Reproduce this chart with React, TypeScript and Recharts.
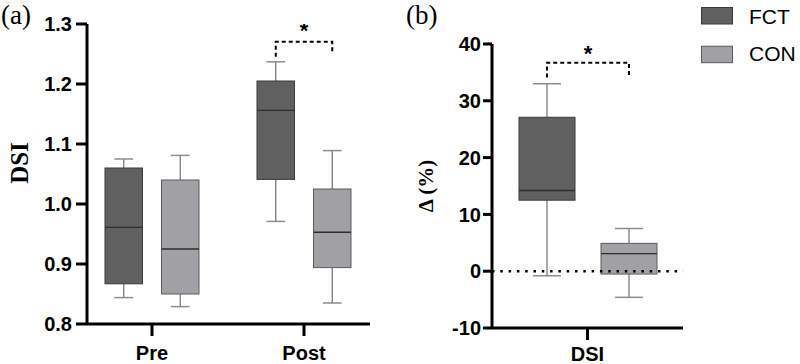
import React from 'react';
import { ComposedChart, Bar, XAxis, YAxis, ReferenceLine } from 'recharts';

// ---------- Panel (a): DSI by phase ----------
const phases = ['Pre', 'Post'];
const phasePositions = [1, 2];
const fctMin = [0.844, 0.971];
const fctQ1 = [0.867, 1.041];
const fctMedian = [0.961, 1.156];
const fctQ3 = [1.06, 1.205];
const fctMax = [1.075, 1.237];
const conMin = [0.829, 0.835];
const conQ1 = [0.85, 0.894];
const conMedian = [0.925, 0.953];
const conQ3 = [1.04, 1.025];
const conMax = [1.081, 1.089];
const dsiTicks = [0.8, 0.9, 1.0, 1.1, 1.2, 1.3];
// significance bracket (FCT vs CON) per phase: null = none
const sigTopA = [null, 1.2705];
const sigLeftEndA = [null, 1.2455];
const sigRightEndA = [null, 1.252];
const sigStarA = [null, 1.297];

// ---------- Panel (b): change in DSI ----------
const deltaCategories = ['DSI'];
const deltaFctMin = [-0.8];
const deltaFctQ1 = [12.5];
const deltaFctMedian = [14.2];
const deltaFctQ3 = [27.1];
const deltaFctMax = [33.0];
const deltaConMin = [-4.6];
const deltaConQ1 = [-0.5];
const deltaConMedian = [3.1];
const deltaConQ3 = [4.9];
const deltaConMax = [7.5];
const deltaTicks = [-10, 0, 10, 20, 30, 40];
const sigTopB = [36.7];
const sigLeftEndB = [34.1];
const sigRightEndB = [34.2];
const sigStarB = [39.2];

const groups = ['FCT', 'CON'];
const groupFill = ['#606060', '#a1a1a5'];
const groupStroke = ['#3a3a3a', '#5c5c5c'];

const BAR_GAP_A = 19;
const BAR_GAP_B = 26;

const stats = (mn: number, q1: number, md: number, q3: number, mx: number) => ({
  min: mn, q1, median: md, q3, max: mx,
});

const dataA = phases.map((name, i) => ({
  name,
  pos: phasePositions[i],
  fct: [fctMin[i], fctMax[i]],
  con: [conMin[i], conMax[i]],
  fctStats: stats(fctMin[i], fctQ1[i], fctMedian[i], fctQ3[i], fctMax[i]),
  conStats: stats(conMin[i], conQ1[i], conMedian[i], conQ3[i], conMax[i]),
  sig: sigTopA[i] == null ? null : { top: sigTopA[i], left: sigLeftEndA[i], right: sigRightEndA[i], star: sigStarA[i] },
}));

const dataB = deltaCategories.map((name, i) => ({
  name,
  fct: [deltaFctMin[i], deltaFctMax[i]],
  con: [deltaConMin[i], deltaConMax[i]],
  fctStats: stats(deltaFctMin[i], deltaFctQ1[i], deltaFctMedian[i], deltaFctQ3[i], deltaFctMax[i]),
  conStats: stats(deltaConMin[i], deltaConQ1[i], deltaConMedian[i], deltaConQ3[i], deltaConMax[i]),
  sig: { top: sigTopB[i], left: sigLeftEndB[i], right: sigRightEndB[i], star: sigStarB[i] },
}));

const SANS = '"Liberation Sans", Arial, sans-serif';
const SERIF = '"Liberation Serif", "Times New Roman", serif';

function BoxShape(props: any) {
  const { x, y, width, height, payload, statsKey, fill, stroke, pairGap, drawSig } = props;
  const s = payload[statsKey];
  const top = Math.min(y, y + height);
  const bottom = Math.max(y, y + height);
  const span = s.max - s.min;
  // linear map from value to pixel, derived from the bar's own scaled extent
  const py = (v: number) => top + ((s.max - v) / span) * (bottom - top);
  const cx = x + width / 2;
  const capHalf = width / 4;
  const sig = payload.sig;
  let bracket = null;
  if (drawSig && sig) {
    const x1 = cx;
    const x2 = cx + width + pairGap;
    bracket = (
      <g>
        <path
          d={`M${x1},${py(sig.left)} V${py(sig.top)} H${x2} V${py(sig.right)}`}
          fill="none"
          stroke="#000"
          strokeWidth={2}
          strokeDasharray="4 3"
        />
        <text
          x={(x1 + x2) / 2}
          y={py(sig.star) + 12.5}
          textAnchor="middle"
          fontSize={22}
          fontWeight="bold"
          fontFamily={SANS}
          fill="#000"
        >
          *
        </text>
      </g>
    );
  }
  return (
    <g>
      <line x1={cx} x2={cx} y1={py(s.max)} y2={py(s.q3)} stroke="#707070" strokeWidth={1.2} />
      <line x1={cx} x2={cx} y1={py(s.q1)} y2={py(s.min)} stroke="#707070" strokeWidth={1.2} />
      <line x1={cx - capHalf} x2={cx + capHalf} y1={py(s.max)} y2={py(s.max)} stroke="#8c8c8c" strokeWidth={1.5} />
      <line x1={cx - capHalf} x2={cx + capHalf} y1={py(s.min)} y2={py(s.min)} stroke="#8c8c8c" strokeWidth={1.5} />
      <rect x={x} y={py(s.q3)} width={width} height={py(s.q1) - py(s.q3)} fill={fill} stroke={stroke} strokeWidth={1} />
      <line x1={x} x2={x + width} y1={py(s.median)} y2={py(s.median)} stroke="#2e2e2e" strokeWidth={1.4} />
      {bracket}
    </g>
  );
}

const axisStyle = { stroke: '#000', strokeWidth: 3 };
const tickStyle = { fill: '#000', fontSize: 20, fontWeight: 'bold', fontFamily: SANS };

const YLabel = (text: string, fontSize: number, dx: number, dy: number) => (props: any) => {
  const vb = props.viewBox || { x: 0, y: 0, width: 0, height: 0 };
  const cx = vb.x + dx;
  const cy = vb.y + vb.height / 2 + dy;
  return (
    <text
      x={cx}
      y={cy}
      transform={`rotate(-90 ${cx} ${cy})`}
      textAnchor="middle"
      dominantBaseline="central"
      fontFamily={SERIF}
      fontWeight="bold"
      fontSize={fontSize}
      fill="#000"
    >
      {text}
    </text>
  );
};

export default function App() {
  return (
    <div style={{ position: 'absolute', left: 0, top: 0, width: 800, height: 364, background: '#fff' }}>
      <div style={{ position: 'absolute', left: 0, top: 0 }}>
        <ComposedChart
          width={400}
          height={364}
          data={dataA}
          margin={{ top: 24, right: 30, bottom: 0, left: 0 }}
          barGap={BAR_GAP_A}
        >
          <XAxis
            type="number"
            dataKey="pos"
            domain={[0.5724, 2.4342]}
            allowDataOverflow
            ticks={phasePositions}
            interval={0}
            tickFormatter={(v: number) => phases[phasePositions.indexOf(v)]}
            height={40}
            axisLine={axisStyle}
            tickLine={axisStyle}
            tickSize={12}
            tickMargin={10}
            tick={tickStyle}
          />
          <YAxis
            type="number"
            domain={[0.8, 1.3]}
            allowDataOverflow
            ticks={dsiTicks}
            interval={0}
            tickFormatter={(v: number) => v.toFixed(1)}
            width={87}
            axisLine={axisStyle}
            tickLine={axisStyle}
            tickSize={11}
            tickMargin={4}
            tick={tickStyle}
            label={{ content: YLabel('DSI', 25, 19, -11) }}
          />
          {groups.map((g, gi) => (
            <Bar
              key={g}
              name={g}
              dataKey={gi === 0 ? 'fct' : 'con'}
              fill={groupFill[gi]}
              stroke={groupStroke[gi]}
              barSize={37.5}
              isAnimationActive={false}
              shape={(p: any) => (
                <BoxShape {...p} statsKey={gi === 0 ? 'fctStats' : 'conStats'} pairGap={BAR_GAP_A} drawSig={gi === 0} />
              )}
            />
          ))}
        </ComposedChart>
      </div>

      <div style={{ position: 'absolute', left: 400, top: 0 }}>
        <ComposedChart
          width={400}
          height={364}
          data={dataB}
          margin={{ top: 44, right: 117, bottom: 0, left: 0 }}
          barGap={BAR_GAP_B}
        >
          <XAxis
            dataKey="name"
            type="category"
            height={36}
            axisLine={axisStyle}
            tickLine={axisStyle}
            tickSize={12}
            tickMargin={7}
            tick={tickStyle}
          />
          <YAxis
            type="number"
            domain={[-10, 40]}
            allowDataOverflow
            ticks={deltaTicks}
            interval={0}
            width={92}
            axisLine={axisStyle}
            tickLine={axisStyle}
            tickSize={9}
            tickMargin={2}
            tick={tickStyle}
            label={{ content: YLabel('Δ (%)', 21, 26, 0) }}
          />
          <ReferenceLine y={0} stroke="#000" strokeWidth={2.5} strokeDasharray="2.5 5.8" />
          {groups.map((g, gi) => (
            <Bar
              key={g}
              name={g}
              dataKey={gi === 0 ? 'fct' : 'con'}
              fill={groupFill[gi]}
              stroke={groupStroke[gi]}
              barSize={56}
              isAnimationActive={false}
              shape={(p: any) => (
                <BoxShape {...p} statsKey={gi === 0 ? 'fctStats' : 'conStats'} pairGap={BAR_GAP_B} drawSig={gi === 0} />
              )}
            />
          ))}
        </ComposedChart>
      </div>

      <svg width={800} height={364} style={{ position: 'absolute', left: 0, top: 0, pointerEvents: 'none' }}>
        <text x={1} y={24} fontFamily={SERIF} fontSize={27} fill="#000">(a)</text>
        <text x={406} y={24} fontFamily={SERIF} fontSize={27} fill="#000">(b)</text>
        {groups.map((g, gi) => (
          <g key={g}>
            <rect x={701.5} y={7.5 + gi * 38.7} width={31} height={16.5} fill={groupFill[gi]} stroke={groupStroke[gi]} strokeWidth={1} />
            <text x={749} y={24.3 + gi * 36.5} fontFamily={SANS} fontSize={21} fill="#000">{g}</text>
          </g>
        ))}
      </svg>
    </div>
  );
}
